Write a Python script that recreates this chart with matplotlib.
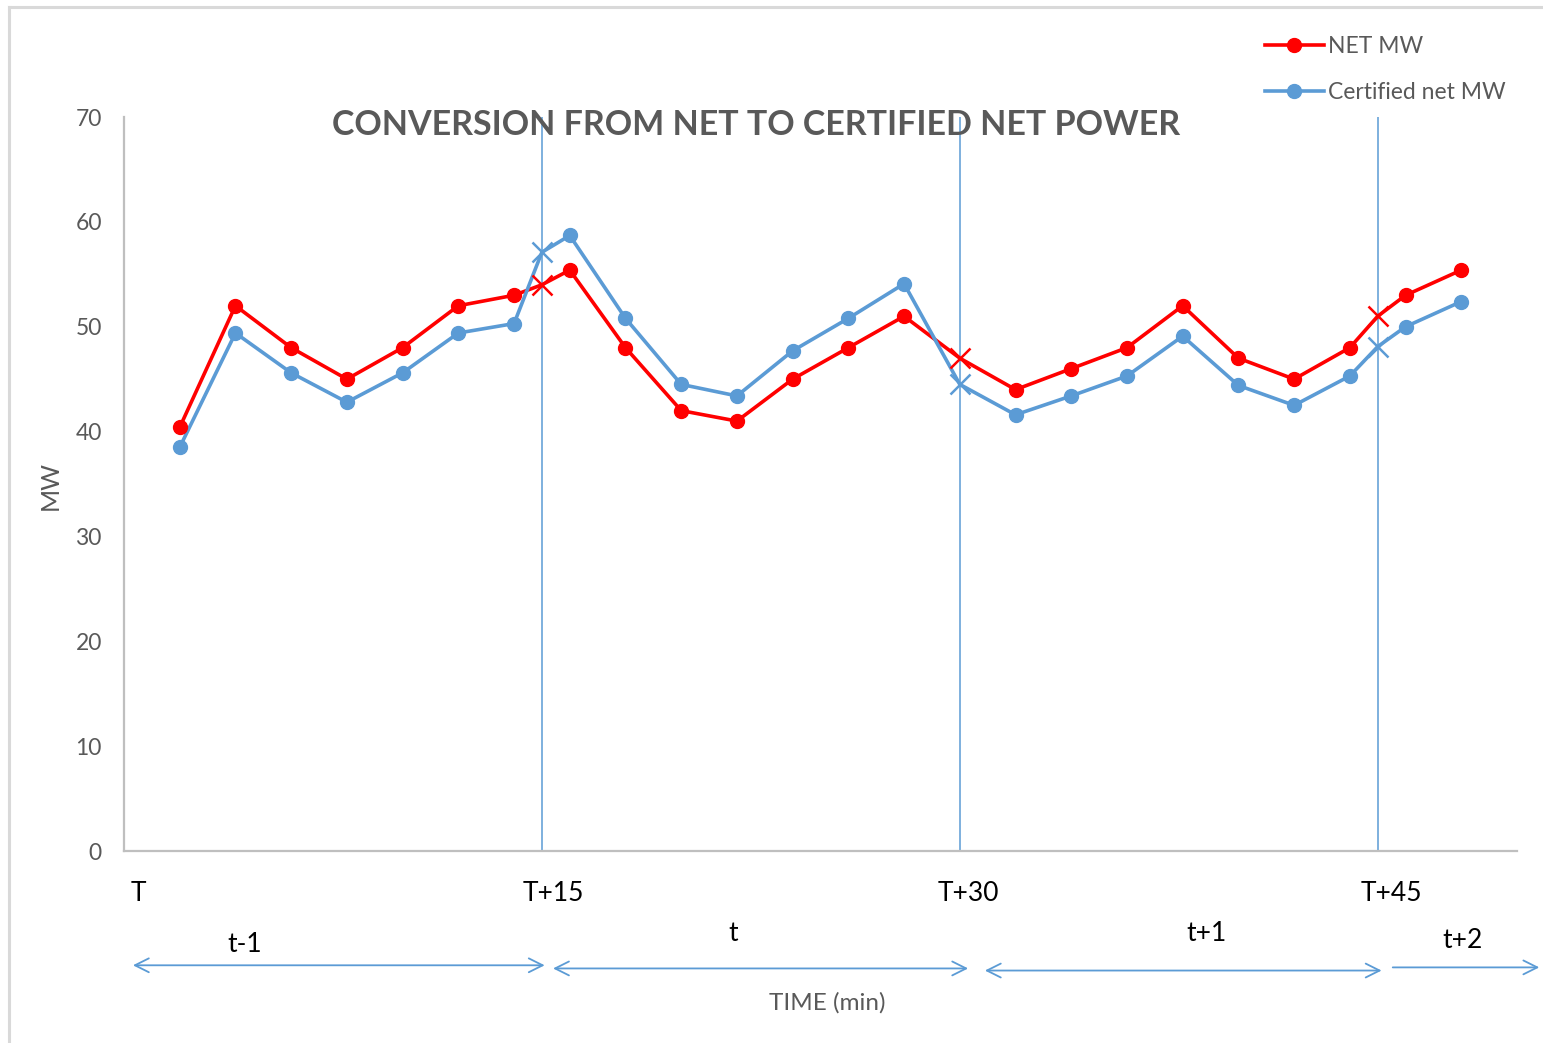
"""
Net vs certified net power over 15-minute intervals.
"""

import matplotlib.pyplot as plt
from matplotlib.lines import Line2D

plt.rcParams["font.family"] = ["Lato", "DejaVu Sans"]

# sample positions (in 2-minute slots); the half-steps are the interval boundaries
time_pos = [1, 2, 3, 4, 5, 6, 7, 7.5, 8, 9, 10, 11, 12, 13, 14, 15,
            16, 17, 18, 19, 20, 21, 22, 22.5, 23, 24]
net_mw = [40.4, 52, 48, 45, 48, 52, 53, 54, 55.4, 48, 42, 41, 45, 48, 51, 47,
          44, 46, 48, 52, 47, 45, 48, 51, 53, 55.4]
cert_mw = [38.5, 49.4, 45.6, 42.8, 45.6, 49.4, 50.3, 57.1, 58.7, 50.8, 44.5, 43.4,
           47.7, 50.8, 54.1, 44.5, 41.6, 43.4, 45.3, 49.1, 44.4, 42.5, 45.3, 48.1,
           50.0, 52.4]
boundaries = [7.5, 15, 22.5]
boundary_labels = ["T", "T+15", "T+30", "T+45"]
boundary_label_x = [0.25, 7.7, 15.15, 22.75]
period_labels = ["t-1", "t", "t+1", "t+2"]
period_label_x = [2.17, 10.93, 19.43, 24.03]
period_label_y = [-8.9, -7.9, -7.9, -8.5]
period_spans = [(0.16, 7.55, -10.9), (7.7, 15.15, -11.2), (15.45, 22.57, -11.4),
                (22.77, 25.4, -11.1)]

RED = "#FF0000"
BLUE = "#5B9BD5"
GREY = "#595959"

fig = plt.figure(figsize=(15.43, 10.43), dpi=100)
ax = fig.add_axes([124 / 1543, 1 - 851 / 1043, (1517 - 124) / 1543, (851 - 117) / 1043])

# outer frame (left and top edges visible)
fig.add_artist(Line2D([9 / 1543, 9 / 1543], [0, 1 - 7 / 1043],
                      transform=fig.transFigure, color="#d9d9d9", lw=2.2))
fig.add_artist(Line2D([9 / 1543, 1], [1 - 7 / 1043, 1 - 7 / 1043],
                      transform=fig.transFigure, color="#d9d9d9", lw=2.2))

for b in boundaries:
    ax.plot([b, b], [0, 70], color=BLUE, lw=1.1, zorder=1)

circ = [i for i, x in enumerate(time_pos) if x not in boundaries]
cross = [i for i, x in enumerate(time_pos) if x in boundaries]
for series, col in [(net_mw, RED), (cert_mw, BLUE)]:
    ax.plot(time_pos, series, color=col, lw=2.6, zorder=3)
    ax.plot([time_pos[i] for i in circ], [series[i] for i in circ], "o",
            color=col, ms=10, zorder=4)
    ax.plot([time_pos[i] for i in cross], [series[i] for i in cross], "x",
            color=col, ms=15, mew=1.8, zorder=4)

ax.set_xlim(0, 25)
ax.set_ylim(0, 70)
ax.set_yticks(range(0, 71, 10))
ax.set_xticks([])
ax.tick_params(axis="y", length=0, pad=16, labelsize=16.5, labelcolor=GREY)
for s in ["top", "right"]:
    ax.spines[s].set_visible(False)
for s in ["left", "bottom"]:
    ax.spines[s].set_color("#bfbfbf")
    ax.spines[s].set_linewidth(1.6)

ax.text(11.34, 69.2, "CONVERSION FROM NET TO CERTIFIED NET POWER", ha="center",
        va="center", fontsize=24.5, fontweight="bold", color=GREY)
fig.text(50 / 1543, 1 - 485 / 1043, "MW", rotation=90, ha="center", va="center",
         fontsize=18, color=GREY)

for x, lab in zip(boundary_label_x, boundary_labels):
    ax.text(x, -4.1, lab, ha="center", va="center", fontsize=19, color="black",
            clip_on=False)
for x, y, lab in zip(period_label_x, period_label_y, period_labels):
    ax.text(x, y, lab, ha="center", va="center", fontsize=19, color="black",
            clip_on=False)
for i, (x0, x1, y) in enumerate(period_spans):
    style = "->" if i == len(period_spans) - 1 else "<->"
    ax.annotate("", xy=(x1, y), xytext=(x0, y), annotation_clip=False,
                arrowprops=dict(arrowstyle=style + ",head_length=1.0,head_width=0.5",
                                color=BLUE, lw=1.3, shrinkA=0, shrinkB=0))
ax.text(12.63, -14.5, "TIME (min)", ha="center", va="center", fontsize=17.5,
        color=GREY, clip_on=False)

handles = [Line2D([], [], color=RED, lw=2.6, marker="o", ms=10),
           Line2D([], [], color=BLUE, lw=2.6, marker="o", ms=10)]
fig.legend(handles, ["NET MW", "Certified net MW"], loc="upper left",
           bbox_to_anchor=(1244 / 1543, 1 - 15 / 1043), frameon=False,
           fontsize=16.5, labelcolor=GREY, handlelength=2.6, handletextpad=0.15,
           labelspacing=1.1)

fig.savefig("out.png", dpi=100)
